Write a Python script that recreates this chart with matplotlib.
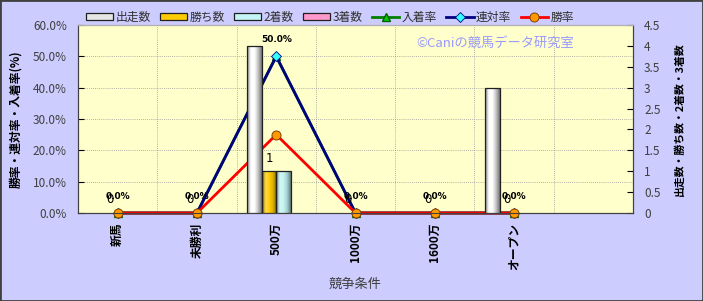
import numpy as np
import matplotlib
matplotlib.use('Agg')
import matplotlib.pyplot as plt
from matplotlib.colors import LinearSegmentedColormap, to_rgb
from matplotlib.patches import Rectangle, Patch

plt.rcParams['font.family'] = ['Noto Sans CJK JP', 'DejaVu Sans']

# データ
categories = ['新馬', '未勝利', '500万', '1000万', '1600万', 'オープン']
starts = [0, 0, 4, 0, 0, 3]        # 出走数
wins = [0, 0, 1, 0, 0, 0]          # 勝ち数
seconds = [0, 0, 1, 0, 0, 0]       # 2着数
thirds = [0, 0, 0, 0, 0, 0]        # 3着数
place_rate = [0.0, 0.0, 50.0, 0.0, 0.0, 0.0]   # 入着率
rentai_rate = [0.0, 0.0, 50.0, 0.0, 0.0, 0.0]  # 連対率
win_rate = [0.0, 0.0, 25.0, 0.0, 0.0, 0.0]     # 勝率

n_slots = 7  # 右端に空き枠が1つある
x = np.arange(len(categories))

fig = plt.figure(figsize=(7.03, 3.01), dpi=100, facecolor='#ccccff')
ax = fig.add_axes([0.111, 0.2924, 0.7894, 0.6246])
ax.set_facecolor('#ffffcc')
ax2 = ax.twinx()

# 率の折れ線（棒の後ろ）
ax.plot(x, place_rate, color='#008000', lw=2, marker='^', ms=6,
        mfc='#00cc00', mec='#006000', clip_on=False, zorder=3, label='入着率')
ax.plot(x, rentai_rate, color='#000080', lw=2, marker='D', ms=5,
        mfc='#33ffff', mec='#000080', mew=0.6, clip_on=False, zorder=4, label='連対率')
ax.plot(x, win_rate, color='#ff0000', lw=2, marker='o', ms=6.5,
        mfc='#ff9900', mec='#804000', mew=0.7, clip_on=False, zorder=5, label='勝率')

for xi, v in zip(x, rentai_rate):
    ax.annotate(f'{v:.1f}%', (xi, v), xytext=(0, 12), textcoords='offset points',
                ha='center', va='center', fontsize=6.5, fontweight='bold',
                family='DejaVu Sans', zorder=6)

# 棒グラフ（円柱風のグラデーション）
w = 0.183
series = [(starts, '#e6e6e6', '出走数'), (wins, '#ffcc00', '勝ち数'),
          (seconds, '#c4f4f4', '2着数'), (thirds, '#ff99cc', '3着数')]
grad = np.linspace(0, 1, 64).reshape(1, -1)
bar_handles = []
for k, (vals, col, name) in enumerate(series):
    base = np.array(to_rgb(col))
    mid = np.array([1, 1, 1]) if k == 0 else base
    cm = LinearSegmentedColormap.from_list(
        'g', [base * 0.55, np.minimum(mid * 0.7 + 0.3, 1), mid, base * 0.85, base * 0.5])
    pos = x + (k - 1.5) * w
    bars = ax2.bar(pos, vals, w, color=col, linewidth=0, zorder=3)
    for p, v in zip(bars.patches, vals):
        if v > 0:
            im = ax2.imshow(grad, cmap=cm, aspect='auto', zorder=3.1, interpolation='bilinear',
                            extent=[p.get_x(), p.get_x() + p.get_width(), 0, v])
            im.set_clip_path(p)
    lw = [0.9 if v > 0 else 0 for v in vals]
    ax2.bar(pos, vals, w, fill=False, edgecolor='#202020', linewidth=lw, zorder=3.2)
    bar_handles.append(Patch(facecolor=col, edgecolor='#202020', linewidth=0.9, label=name))

for xi, v in zip(x, wins):
    ax2.annotate(f'{v}', (xi - 0.5 * w, v), xytext=(0, 9.5), textcoords='offset points',
                 ha='center', va='center', fontsize=8.5, family='DejaVu Sans', zorder=6)

# 軸
ax.set_xlim(-0.5, n_slots - 0.5)
ax.set_ylim(0, 60)
ax2.set_ylim(0, 4.5)
ax.set_yticks(np.arange(0, 61, 10))
ax.set_yticklabels([f'{v:.1f}%' for v in np.arange(0, 61, 10)])
ax2.set_yticks(np.arange(0, 4.51, 0.5))
ax2.set_yticklabels([f'{v:g}' for v in np.arange(0, 4.51, 0.5)])
ax.set_xticks(x)
ax.set_xticklabels(categories, rotation=90, fontsize=8.5, fontweight='bold')
ax.set_xticks(np.arange(0.5, n_slots - 1, 1), minor=True)
ax.tick_params(axis='x', which='both', length=0, pad=7)
ax.tick_params(axis='y', direction='in', length=4, labelsize=8.5, labelcolor='#404040', pad=8)
ax2.tick_params(axis='y', direction='in', length=4, labelsize=8.5, labelcolor='#404040', pad=8)

ax.grid(True, axis='y', color='#999999', lw=0.6, ls=(0, (1, 1.5)))
ax.grid(True, axis='x', which='minor', color='#999999', lw=0.6, ls=(0, (1, 1.5)))
ax.set_axisbelow(True)

for a in (ax, ax2):
    for s in ('left', 'right', 'bottom'):
        a.spines[s].set_color('#404040')
    a.spines['top'].set_color('#b0b0b0')

ax.set_ylabel('勝率・連対率・入着率(%)', fontsize=8.5, fontweight='bold', labelpad=8)
ax2.set_ylabel('出走数・勝ち数・2着数・3着数', fontsize=7.8, fontweight='bold', labelpad=10,
               rotation=90)
ax.set_xlabel('競争条件', fontsize=9.5, color='#404040', labelpad=6)

ax.text(0.751, 0.904, '©Caniの競馬データ研究室', transform=ax.transAxes, ha='center',
        va='center', fontsize=9.5, color='#9999ff', zorder=7)

# 凡例
line_handles, line_labels = ax.get_legend_handles_labels()
fig.legend(bar_handles + line_handles,
           [h.get_label() for h in bar_handles] + line_labels,
           loc='center', bbox_to_anchor=(0.469, 0.942), ncol=7, frameon=False,
           fontsize=8.5, handlelength=2.3, handleheight=0.55, handletextpad=0.2,
           columnspacing=0.8, labelcolor='#303030')

fig.patches.append(Rectangle((0, 0), 1, 1, transform=fig.transFigure, fill=False,
                             edgecolor='#404040', lw=2))

fig.savefig('out.png', dpi=100, facecolor=fig.get_facecolor())
